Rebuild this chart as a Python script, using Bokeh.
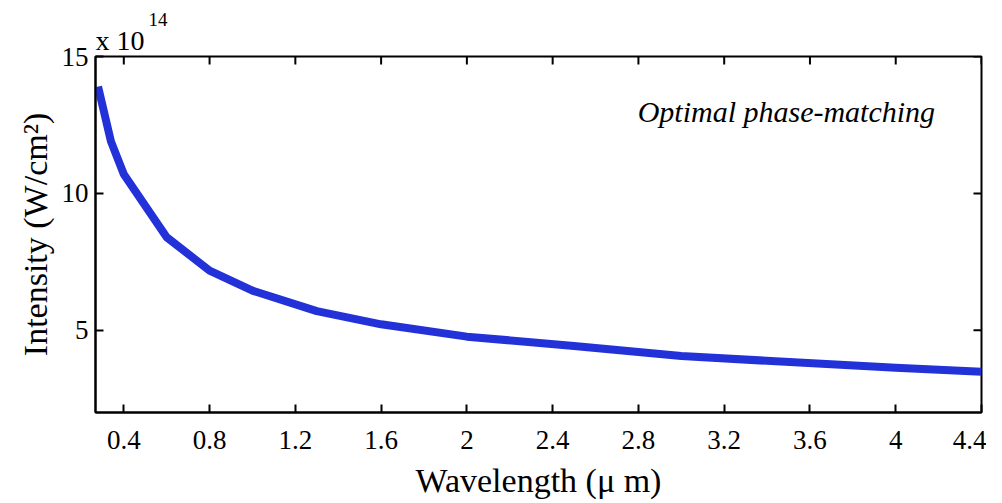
import math
from bokeh.plotting import figure
from bokeh.models import (Range1d, FixedTicker, Label, Title,
                          CustomJSTickFormatter, ColumnDataSource)
from bokeh.embed import file_html
from bokeh.resources import INLINE

# ---- data ----
wavelength = [0.28, 0.34, 0.40, 0.60, 0.80, 1.00, 1.30, 1.60, 2.00, 2.50, 3.00, 4.00, 4.40]
intensity = [13.9, 11.9, 10.7, 8.40, 7.18, 6.45, 5.70, 5.22, 4.77, 4.43, 4.06, 3.63, 3.49]
x_ticks = [0.4, 0.8, 1.2, 1.6, 2.0, 2.4, 2.8, 3.2, 3.6, 4.0, 4.4]
y_ticks = [5, 10, 15]

FONT = "Liberation Serif"

p = figure(width=986, height=503, output_backend="svg", toolbar_location=None,
           x_range=Range1d(0.268, 4.4), y_range=Range1d(2, 15),
           min_border_left=95, min_border_right=5, min_border_top=56,
           min_border_bottom=91)
p.xgrid.visible = False
p.ygrid.visible = False
p.outline_line_color = "black"
p.outline_line_width = 2
p.background_fill_color = "white"
p.border_fill_color = "white"

src = ColumnDataSource(dict(x=wavelength, y=intensity))
p.line("x", "y", source=src, line_color="#2332d8", line_width=8, line_join="round")

# mirrored (inward) ticks on top and right edges
p.ray(x=x_ticks, y=[p.y_range.end] * len(x_ticks), length=8, length_units="screen",
      angle=-math.pi / 2, line_color="black", line_width=2)
p.ray(x=[p.x_range.end] * len(y_ticks), y=y_ticks, length=8, length_units="screen",
      angle=math.pi, line_color="black", line_width=2)

fmt = CustomJSTickFormatter(code="return tick.toFixed(1).replace(/\\.0$/, '');")


def style(ax, ticks):
    ax.ticker = FixedTicker(ticks=ticks)
    ax.axis_line_color = "black"
    ax.axis_line_width = 2
    ax.major_tick_line_color = "black"
    ax.major_tick_line_width = 2
    ax.major_tick_in = 8
    ax.major_tick_out = 0
    ax.minor_tick_line_color = None
    ax.major_label_text_font = FONT
    ax.major_label_text_font_size = "27px"
    ax.major_label_text_color = "black"
    ax.axis_label_text_font = FONT
    ax.axis_label_text_font_size = "34px"
    ax.axis_label_text_font_style = "normal"
    ax.axis_label_text_color = "black"


xa = p.xaxis[0]
style(xa, x_ticks)
xa.formatter = fmt
xa.axis_label = "Wavelength (\u03bc m)"
xa.major_label_standoff = 18
xa.axis_label_standoff = 10

ya = p.yaxis[0]
style(ya, y_ticks)
ya.axis_label = "Intensity (W/cm\u00b2)"
ya.major_label_standoff = 7
ya.axis_label_standoff = 5

# exponent "x 10^14" above the frame's top-left corner
p.add_layout(Title(text="x 10", align="left", offset=0, standoff=1,
                   text_font=FONT, text_font_size="28px", text_font_style="normal",
                   text_color="black"), "above")
p.add_layout(Title(text="14", align="left", offset=53, standoff=-6,
                   text_font=FONT, text_font_size="19px", text_font_style="normal",
                   text_color="black"), "above")

# annotation
p.add_layout(Label(x=3.49, y=13.0, text="Optimal phase-matching",
                   text_font=FONT, text_font_size="30px", text_font_style="italic",
                   text_color="black", text_align="center",
                   text_baseline="alphabetic"))

open("out.html", "w").write(file_html(p, INLINE))
